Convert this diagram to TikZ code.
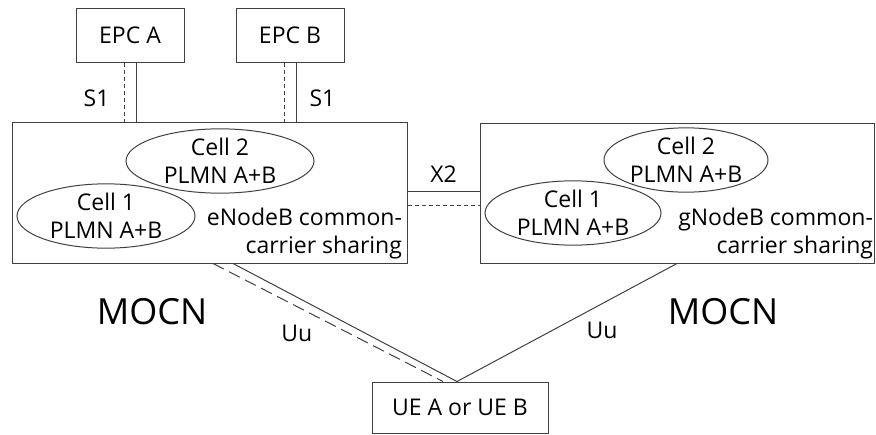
\documentclass[tikz,border=0pt]{standalone}
\usepackage{fontspec}
\setmainfont{Open Sans}
\usetikzlibrary{shapes.geometric, positioning}

\tikzset{
  box/.style={draw=black!75, rectangle, inner sep=0pt},
  cell/.style={draw=black!75, ellipse, inner sep=0pt, align=center},
  lbl/.style={inner sep=0pt},
  sdash/.style={dash pattern=on 4pt off 3pt},
  ldash/.style={dash pattern=on 12pt off 6pt},
}

\begin{document}
\begin{tikzpicture}[x=1pt, y=-1pt, line width=1pt, font=\fontsize{23}{28}\selectfont]
    \useasboundingbox (0,0) rectangle (876,434);

    \node[box, minimum width=108, minimum height=54] (epcA) at (130,35) {EPC A};
    \node[box, minimum width=108, minimum height=54, right=51pt of epcA] (epcB) {EPC B};

    \node[box, minimum width=395, minimum height=141] (enb) at (209.5,192.5) {};
    \node[box, minimum width=394, minimum height=140] (gnb) at (677,193) {};
    \node[box, minimum width=176, minimum height=51] (ue) at (460,407.5) {UE A or UE B};

    \node[cell, minimum width=188, minimum height=60] (enbc2) at (220,161) {Cell 2\\PLMN A+B};
    \node[cell, minimum width=178, minimum height=56] (enbc1) at (106,216) {Cell 1\\PLMN A+B};
    \node[cell, minimum width=164, minimum height=64] (gnbc2) at (686,160) {Cell 2\\PLMN A+B};
    \node[cell, minimum width=176, minimum height=64] (gnbc1) at (573,213) {Cell 1\\PLMN A+B};

    \node[lbl, anchor=east, align=right] (enbtxt) at ([xshift=-5pt, yshift=-41pt]enb.east) {eNodeB common-\\carrier sharing};
    \node[lbl, anchor=east, align=right] (gnbtxt) at ([xshift=-1pt, yshift=-41pt]gnb.east) {gNodeB common-\\carrier sharing};

    \node[font=\fontsize{36}{43}\selectfont] (mocnL) at (152,312) {MOCN};
    \node[font=\fontsize{36}{43}\selectfont] (mocnR) at (723,312) {MOCN};

    \draw[black!75]
    ([xshift=-6pt]epcA.south) edge[sdash] node[lbl, pos=0.6, left=14pt, black] {S1} ([xshift=-6pt]epcA.south |- enb.north)
    ([xshift=6pt]epcA.south) edge ([xshift=6pt]epcA.south |- enb.north)
    ([xshift=-6pt]epcB.south) edge[sdash] ([xshift=-6pt]epcB.south |- enb.north)
    ([xshift=6pt]epcB.south) edge node[lbl, pos=0.6, right=13pt, black] {S1} ([xshift=6pt]epcB.south |- enb.north)
    ([yshift=1.5pt]enb.east) edge node[lbl, midway, above=8pt, black] {X2} ([yshift=1.5pt]enb.east -| gnb.west)
    ([yshift=-12.5pt]enb.east) edge[sdash] ([yshift=-12.5pt]enb.east -| gnb.west)
    ([xshift=23.5pt]enb.south) edge ([xshift=-3pt]ue.north)
    ([xshift=3.5pt]enb.south) edge[ldash] node[lbl, pos=0.59, left=36pt, black] {Uu} ([xshift=-17pt]ue.north)
    (gnb.south) edge node[lbl, pos=0.563, right=33pt, black] {Uu} ([xshift=-3pt]ue.north)
    ;
\end{tikzpicture}
\end{document}
